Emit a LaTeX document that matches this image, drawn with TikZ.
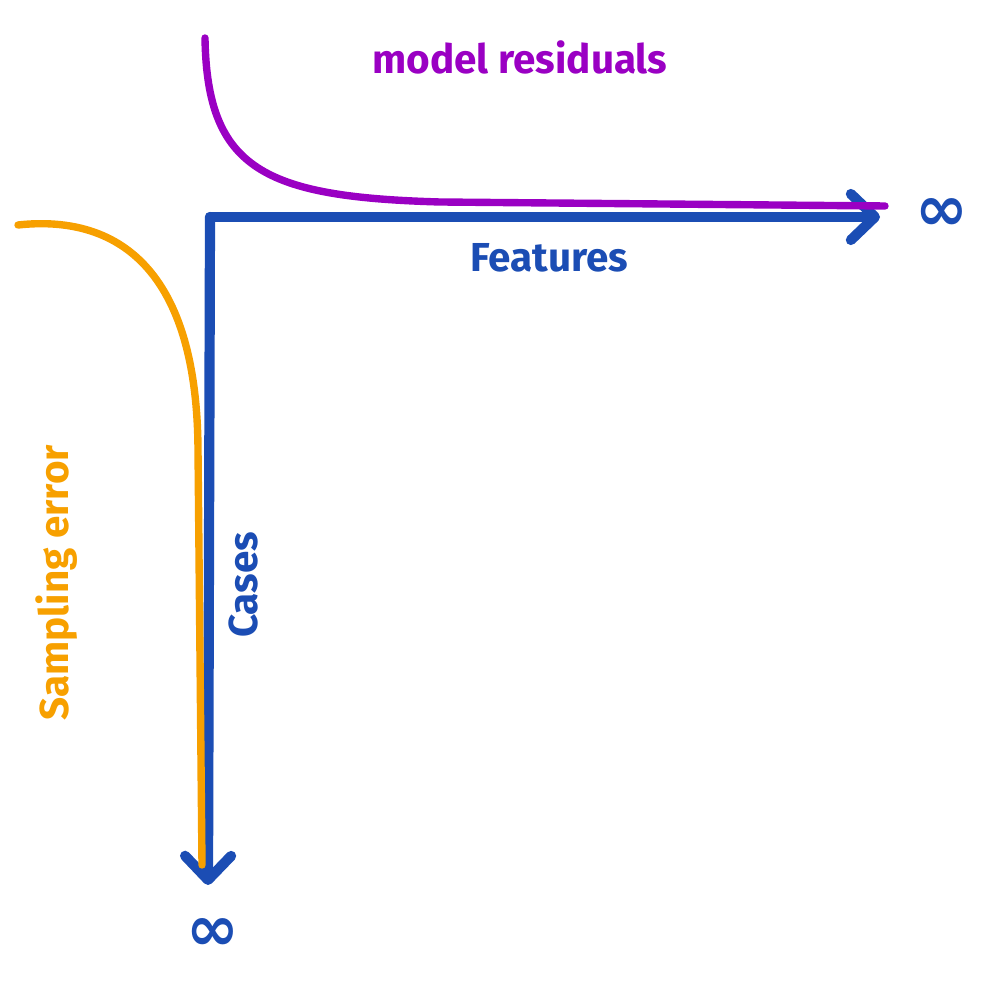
\documentclass[tikz,border=0pt]{standalone}
\usepackage{fontspec}
\setmainfont{Fira Sans}
\newfontfamily\symfont{DejaVu Sans}
\usetikzlibrary{arrows.meta}
\definecolor{axisblue}{HTML}{1B4DB4}
\definecolor{residpurple}{HTML}{9A00C3}
\definecolor{errororange}{HTML}{F7A000}
\tikzset{> = { Straight Barb[length = 2.4mm, width = 4.6mm, line cap = round, round] }}
\tikzstyle{every path} = [ line cap = round, line join = round ]
\tikzstyle{axis} = [ draw = axisblue, line width = 2.9pt, -> ]
\tikzstyle{curve} = [ line width = 2.1pt ]
\tikzstyle{lbl} = [ font = \fontsize{11.5}{14}\selectfont\bfseries, inner sep = 0pt ]
\tikzstyle{inf} = [ font = \fontsize{18}{18}\selectfont\symfont\bfseries, text = axisblue, inner sep = 0pt ]

\begin{document}
\begin{tikzpicture}[x = 0.01cm, y = -0.01cm]
	\useasboundingbox (0, 0) rectangle (988, 986);

	\coordinate (O) at (210, 217);
	\coordinate (xEnd) at (880, 217);
	\coordinate (yEnd) at (208, 885);

	% Axes.
	\draw [axis] (O) to (xEnd);
	\draw [axis] (O) to (yEnd);

	\node [lbl, text = axisblue] (features) at (549, 258) {Features};
	\node [lbl, text = axisblue, rotate = 90] (cases) at (243, 585) {Cases};
	\node [inf] (xInf) at (942, 215) {∞};
	\node [inf] (yInf) at (213, 935) {∞};

	% Model residuals.
	\coordinate (rStart) at (205, 38);
	\coordinate (rEnd) at (885, 206);
	\draw [curve, residpurple] (rStart)
		.. controls (207, 170) and (265, 197) .. (440, 202)
		to (rEnd);
	\node [lbl, text = residpurple] (residuals) at (520, 57) {model residuals};

	% Sampling error.
	\coordinate (sStart) at (18, 225);
	\coordinate (sEnd) at (202, 865);
	\draw [curve, errororange] (sStart)
		.. controls (110, 215) and (197, 260) .. (198, 450)
		to (sEnd);
	\node [lbl, text = errororange, rotate = 90] (sampling) at (57, 583) {Sampling error};
\end{tikzpicture}
\end{document}
